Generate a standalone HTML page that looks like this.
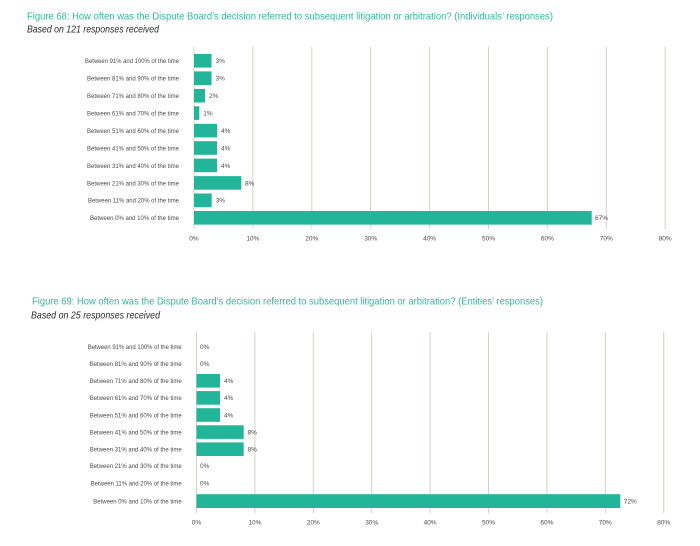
<!DOCTYPE html>
<html>
<head>
<meta charset="utf-8">
<style>
  html,body{margin:0;padding:0;background:#ffffff;}
  svg{display:block;}
  text{font-family:"Liberation Sans",sans-serif;}
  .title{fill:#2fb99d;font-size:10.5px;}
  .sub{fill:#2a2a2a;font-size:10.5px;font-style:italic;}
  .cat{fill:#4a4a4a;font-size:6.5px;}
  .val{fill:#4a4a4a;font-size:6.5px;}
  .tick{fill:#4a4a4a;font-size:6.5px;}
  .grid{stroke:#d9cfc6;stroke-width:1;}
  .bar{fill:#22b59a;}
</style>
</head>
<body>
<svg width="700" height="546" viewBox="0 0 700 546" xmlns="http://www.w3.org/2000/svg">
  <rect width="700" height="546" fill="#ffffff"/>

  <!-- ============ Figure 68 ============ -->
  <text class="title" x="27" y="19.5" textLength="526" lengthAdjust="spacingAndGlyphs">Figure 68: How often was the Dispute Board’s decision referred to subsequent litigation or arbitration? (Individuals’ responses)</text>
  <text class="sub" x="27" y="32.7" textLength="132" lengthAdjust="spacingAndGlyphs">Based on 121 responses received</text>

  <g class="grid">
    <line x1="194" y1="47" x2="194" y2="229"/>
    <line x1="252.9" y1="47" x2="252.9" y2="229"/>
    <line x1="311.8" y1="47" x2="311.8" y2="229"/>
    <line x1="370.7" y1="47" x2="370.7" y2="229"/>
    <line x1="429.6" y1="47" x2="429.6" y2="229"/>
    <line x1="488.5" y1="47" x2="488.5" y2="229"/>
    <line x1="547.4" y1="47" x2="547.4" y2="229"/>
    <line x1="606.3" y1="47" x2="606.3" y2="229"/>
    <line x1="665.2" y1="47" x2="665.2" y2="229"/>
  </g>

  <g class="bar">
    <rect x="194" y="54" width="17.5" height="13.6"/>
    <rect x="194" y="71.4" width="17.5" height="13.6"/>
    <rect x="194" y="88.9" width="11" height="13.6"/>
    <rect x="194" y="106.3" width="5.3" height="13.6"/>
    <rect x="194" y="123.8" width="23" height="13.6"/>
    <rect x="194" y="141.2" width="23" height="13.6"/>
    <rect x="194" y="158.6" width="23" height="13.6"/>
    <rect x="194" y="176.1" width="47.3" height="13.6"/>
    <rect x="194" y="193.5" width="17.7" height="13.6"/>
    <rect x="194" y="211" width="397.7" height="13.6"/>
  </g>

  <g class="cat" text-anchor="end">
    <text x="179" y="63.2" textLength="94" lengthAdjust="spacingAndGlyphs">Between 91% and 100% of the time</text>
    <text x="179" y="80.6" textLength="92" lengthAdjust="spacingAndGlyphs">Between 81% and 90% of the time</text>
    <text x="179" y="98.1" textLength="92" lengthAdjust="spacingAndGlyphs">Between 71% and 80% of the time</text>
    <text x="179" y="115.5" textLength="92" lengthAdjust="spacingAndGlyphs">Between 61% and 70% of the time</text>
    <text x="179" y="133" textLength="92" lengthAdjust="spacingAndGlyphs">Between 51% and 60% of the time</text>
    <text x="179" y="150.4" textLength="92" lengthAdjust="spacingAndGlyphs">Between 41% and 50% of the time</text>
    <text x="179" y="167.8" textLength="92" lengthAdjust="spacingAndGlyphs">Between 31% and 40% of the time</text>
    <text x="179" y="185.3" textLength="92" lengthAdjust="spacingAndGlyphs">Between 21% and 30% of the time</text>
    <text x="179" y="202.7" textLength="91" lengthAdjust="spacingAndGlyphs">Between 11% and 20% of the time</text>
    <text x="179" y="220.2" textLength="89" lengthAdjust="spacingAndGlyphs">Between 0% and 10% of the time</text>
  </g>

  <g class="val">
    <text x="215.5" y="63.2">3%</text>
    <text x="215.5" y="80.6">3%</text>
    <text x="209" y="98.1">2%</text>
    <text x="203.3" y="115.5">1%</text>
    <text x="221" y="133">4%</text>
    <text x="221" y="150.4">4%</text>
    <text x="221" y="167.8">4%</text>
    <text x="245" y="185.3">8%</text>
    <text x="215.7" y="202.7">3%</text>
    <text x="595" y="220.2">67%</text>
  </g>

  <g class="tick" text-anchor="middle">
    <text x="194" y="240.3">0%</text>
    <text x="252.9" y="240.3">10%</text>
    <text x="311.8" y="240.3">20%</text>
    <text x="370.7" y="240.3">30%</text>
    <text x="429.6" y="240.3">40%</text>
    <text x="488.5" y="240.3">50%</text>
    <text x="547.4" y="240.3">60%</text>
    <text x="606.3" y="240.3">70%</text>
    <text x="665.2" y="240.3">80%</text>
  </g>

  <!-- ============ Figure 69 ============ -->
  <text class="title" x="32" y="304.3" textLength="511" lengthAdjust="spacingAndGlyphs">Figure 69: How often was the Dispute Board’s decision referred to subsequent litigation or arbitration? (Entities’ responses)</text>
  <text class="sub" x="31" y="318.3" textLength="129" lengthAdjust="spacingAndGlyphs">Based on 25 responses received</text>

  <g class="grid">
    <line x1="196.5" y1="332" x2="196.5" y2="513"/>
    <line x1="254.9" y1="332" x2="254.9" y2="513"/>
    <line x1="313.3" y1="332" x2="313.3" y2="513"/>
    <line x1="371.7" y1="332" x2="371.7" y2="513"/>
    <line x1="430.1" y1="332" x2="430.1" y2="513"/>
    <line x1="488.5" y1="332" x2="488.5" y2="513"/>
    <line x1="546.9" y1="332" x2="546.9" y2="513"/>
    <line x1="605.3" y1="332" x2="605.3" y2="513"/>
    <line x1="663.7" y1="332" x2="663.7" y2="513"/>
  </g>

  <g class="bar">
    <rect x="196.5" y="374" width="23.5" height="13.6"/>
    <rect x="196.5" y="391.1" width="23.5" height="13.6"/>
    <rect x="196.5" y="408.2" width="23.5" height="13.6"/>
    <rect x="196.5" y="425.3" width="47.2" height="13.6"/>
    <rect x="196.5" y="442.4" width="47.2" height="13.6"/>
    <rect x="196.5" y="494.2" width="423.8" height="13.8"/>
  </g>

  <g class="cat" text-anchor="end">
    <text x="181.7" y="349" textLength="94" lengthAdjust="spacingAndGlyphs">Between 91% and 100% of the time</text>
    <text x="181.7" y="366.2" textLength="92" lengthAdjust="spacingAndGlyphs">Between 81% and 90% of the time</text>
    <text x="181.7" y="383.1" textLength="92" lengthAdjust="spacingAndGlyphs">Between 71% and 80% of the time</text>
    <text x="181.7" y="400.2" textLength="92" lengthAdjust="spacingAndGlyphs">Between 61% and 70% of the time</text>
    <text x="181.7" y="417.3" textLength="92" lengthAdjust="spacingAndGlyphs">Between 51% and 60% of the time</text>
    <text x="181.7" y="434.4" textLength="92" lengthAdjust="spacingAndGlyphs">Between 41% and 50% of the time</text>
    <text x="181.7" y="451.5" textLength="92" lengthAdjust="spacingAndGlyphs">Between 31% and 40% of the time</text>
    <text x="181.7" y="468.2" textLength="92" lengthAdjust="spacingAndGlyphs">Between 21% and 30% of the time</text>
    <text x="181.7" y="485.5" textLength="91" lengthAdjust="spacingAndGlyphs">Between 11% and 20% of the time</text>
    <text x="181.7" y="503.3" textLength="88.4" lengthAdjust="spacingAndGlyphs">Between 0% and 10% of the time</text>
  </g>

  <g class="val">
    <text x="200" y="349">0%</text>
    <text x="200" y="366.2">0%</text>
    <text x="224" y="383.1">4%</text>
    <text x="224" y="400.2">4%</text>
    <text x="224" y="417.3">4%</text>
    <text x="247.5" y="434.4">8%</text>
    <text x="247.5" y="451.5">8%</text>
    <text x="200" y="468.2">0%</text>
    <text x="200" y="485.5">0%</text>
    <text x="623.8" y="503.3">72%</text>
  </g>

  <g class="tick" text-anchor="middle">
    <text x="196.5" y="524.3">0%</text>
    <text x="254.9" y="524.3">10%</text>
    <text x="313.3" y="524.3">20%</text>
    <text x="371.7" y="524.3">30%</text>
    <text x="430.1" y="524.3">40%</text>
    <text x="488.5" y="524.3">50%</text>
    <text x="546.9" y="524.3">60%</text>
    <text x="605.3" y="524.3">70%</text>
    <text x="663.7" y="524.3">80%</text>
  </g>
</svg>
</body>
</html>
